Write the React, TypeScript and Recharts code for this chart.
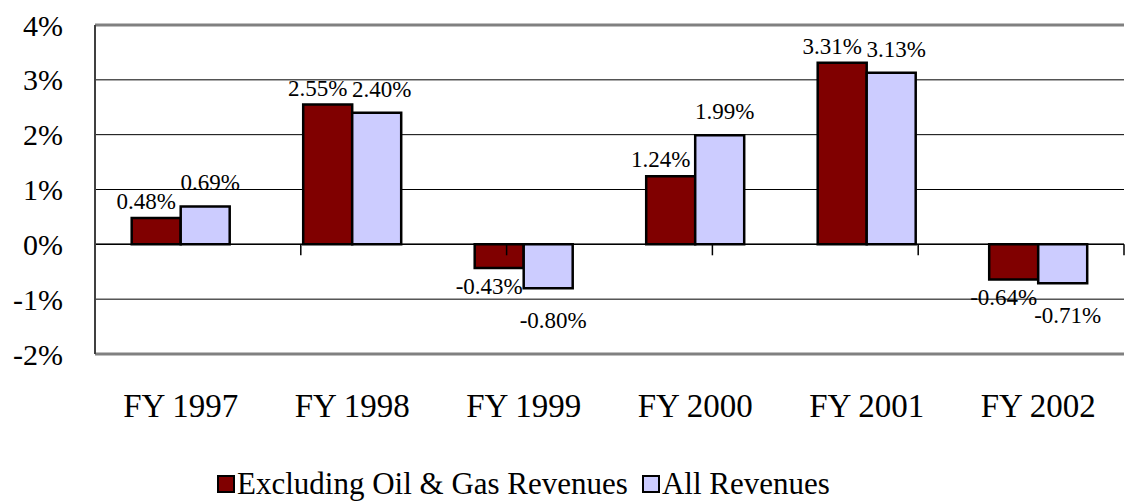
import React from 'react';
import { BarChart, Bar, XAxis, YAxis, CartesianGrid, ReferenceLine, LabelList, Legend } from 'recharts';

const categories = ['FY 1997', 'FY 1998', 'FY 1999', 'FY 2000', 'FY 2001', 'FY 2002'];
const excludingOilGas = [0.48, 2.55, -0.43, 1.24, 3.31, -0.64];
const allRevenues = [0.69, 2.4, -0.8, 1.99, 3.13, -0.71];
const yTicks = [-2, -1, 0, 1, 2, 3, 4];
const categoryBoundaries = [1, 2, 3, 4, 5];
const seriesNames = ['Excluding Oil & Gas Revenues', 'All Revenues'];

const data = categories.map((c, i) => ({ name: c, ex: excludingOilGas[i], all: allRevenues[i] }));

const FONT = '"Liberation Serif", "Times New Roman", serif';
const RED = '#800000';
const BLUE = '#CCCCFF';

const makeLabel = (dx: number, upGap: number, downGap: number) => (props: any) => {
  const { x, y, width, height, value } = props;
  const top = Math.min(y, y + height);
  const bottom = Math.max(y, y + height);
  const cx = x + width / 2 + dx;
  const neg = value < 0;
  return (
    <text
      x={cx}
      y={neg ? bottom + downGap : top - upGap}
      textAnchor="middle"
      dominantBaseline={neg ? 'hanging' : 'auto'}
      fontFamily={FONT}
      fontSize={23}
      fill="#000"
    >
      {`${value.toFixed(2)}%`}
    </text>
  );
};

const swatch = (color: string) => ({
  display: 'inline-block',
  flexShrink: 0,
  width: 14,
  height: 14,
  background: color,
  border: '2.5px solid #000',
  marginRight: 2,
});

const LegendContent = () => (
  <div style={{ display: 'flex', alignItems: 'center', fontFamily: FONT, fontSize: 31, color: '#000', whiteSpace: 'nowrap', height: 40, width: 800 }}>
    <span style={swatch(RED)} />
    <span style={{ flexShrink: 0 }}>{seriesNames[0]}</span>
    <span style={{ display: 'inline-block', flexShrink: 0, width: 14 }} />
    <span style={swatch(BLUE)} />
    <span style={{ flexShrink: 0 }}>{seriesNames[1]}</span>
  </div>
);

export default function App() {
  return (
    <div style={{ position: 'absolute', left: 0, top: 0, width: 1125, height: 504, background: '#fff' }}>
      <BarChart
        width={1125}
        height={504}
        data={data}
        margin={{ top: 25, right: 1, left: 0, bottom: 0 }}
        barCategoryGap="21.4%"
        barGap={0}
      >
        <CartesianGrid horizontal vertical={false} stroke="#000" strokeWidth={1} />
        <XAxis
          dataKey="name"
          axisLine={false}
          tickLine={false}
          tickSize={0}
          tickMargin={40}
          height={110}
          interval={0}
          tick={{ fontFamily: FONT, fontSize: 33, fill: '#000' }}
        />
        <XAxis xAxisId="num" type="number" domain={[0, 6]} hide />
        <YAxis
          width={95}
          domain={[-2, 4]}
          ticks={yTicks}
          interval={0}
          tickFormatter={(v: number) => `${v}%`}
          axisLine={{ stroke: '#404040', strokeWidth: 2 }}
          tickLine={false}
          tickSize={0}
          tickMargin={32}
          tick={{ fontFamily: FONT, fontSize: 30, fill: '#000' }}
        />
        <ReferenceLine y={4} stroke="#808080" strokeWidth={3} />
        <ReferenceLine y={-2} stroke="#808080" strokeWidth={3} />
        <ReferenceLine xAxisId="num" x={6} stroke="#808080" strokeWidth={3} />
        <ReferenceLine y={0} stroke="#000" strokeWidth={1.5} />
        {categoryBoundaries.map((b) => (
          <ReferenceLine
            key={b}
            xAxisId="num"
            segment={[{ x: b, y: 0 }, { x: b, y: -0.2 }]}
            stroke="#000"
            strokeWidth={1.5}
          />
        ))}
        <Bar dataKey="ex" name={seriesNames[0]} fill={RED} stroke="#000" strokeWidth={2.5} isAnimationActive={false}>
          <LabelList dataKey="ex" content={makeLabel(-10, 9, 10)} />
        </Bar>
        <Bar dataKey="all" name={seriesNames[1]} fill={BLUE} stroke="#000" strokeWidth={2.5} isAnimationActive={false}>
          <LabelList dataKey="all" content={makeLabel(5, 16, 24)} />
        </Bar>
        <Legend verticalAlign="bottom" align="left" wrapperStyle={{ left: 217 }} content={LegendContent} />
      </BarChart>
    </div>
  );
}
